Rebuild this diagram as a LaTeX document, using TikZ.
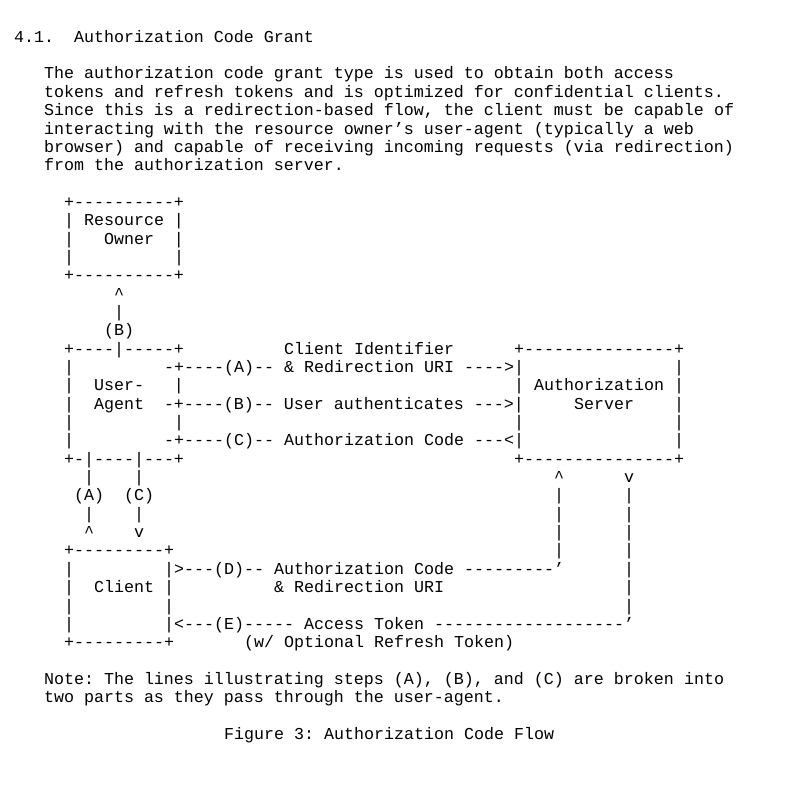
\documentclass[tikz,border=0pt]{standalone}
\usepackage{fontspec}
\setmonofont{Liberation Mono}
\frenchspacing
\tikzset{
  txt/.style={anchor=base west, inner sep=0pt, outer sep=0pt,
    font=\ttfamily\fontsize{12.5pt}{13.7pt}\selectfont}
}
\begin{document}
\begin{tikzpicture}[x=7.5pt, y=-13.76pt]
\useasboundingbox (-1.4,-2.305) rectangle (78.6,40.528);
% heading and text
\node[txt] (sec) at (0,0) {4.1.};
\node[txt] (title) at (6,0) {Authorization Code Grant};
\node[txt] (p1) at (3,2) {The authorization code grant type is used to obtain both access};
\node[txt] (p2) at (3,3) {tokens and refresh tokens and is optimized for confidential clients.};
\node[txt] (p3) at (3,4) {Since this is a redirection-based flow, the client must be capable of};
\node[txt] (p4) at (3,5) {interacting with the resource owner’s user-agent (typically a web};
\node[txt] (p5) at (3,6) {browser) and capable of receiving incoming requests (via redirection)};
\node[txt] (p6) at (3,7) {from the authorization server.};
% resource owner
\node[txt] (r9) at (5,9) {+----------+};
\node[txt] (r10) at (5,10) {|~Resource~|};
\node[txt] (r11) at (5,11) {|~~~Owner~~|};
\node[txt] (r12) at (5,12) {|~~~~~~~~~~|};
\node[txt] (r13) at (5,13) {+----------+};
\node[txt] (r14) at (10,14) {\textasciicircum};
\node[txt] (r15) at (10,15) {|};
\node[txt] (r16) at (9,16) {(B)};
% user-agent and authorization server
\node[txt] (r17) at (5,17) {+----|-----+~~~~~~~~~~Client Identifier~~~~~~+---------------+};
\node[txt] (r18) at (5,18) {|~~~~~~~~~-+----(A)-- \& Redirection URI ---->|~~~~~~~~~~~~~~~|};
\node[txt] (r19) at (5,19) {|~~User-~~~|};
\node[txt] (r19b) at (50,19) {|~Authorization~|};
\node[txt] (r20) at (5,20) {|~~Agent~~-+----(B)-- User authenticates --->|~~~~~Server~~~~|};
\node[txt] (r21) at (5,21) {|~~~~~~~~~~|};
\node[txt] (r21b) at (50,21) {|~~~~~~~~~~~~~~~|};
\node[txt] (r22) at (5,22) {|~~~~~~~~~-+----(C)-- Authorization Code ---<|~~~~~~~~~~~~~~~|};
\node[txt] (r23) at (5,23) {+-|----|---+};
\node[txt] (r23b) at (50,23) {+---------------+};
% lines between
\node[txt] (r24) at (7,24) {|~~~~|};
\node[txt] (r24b) at (54,24) {\textasciicircum~~~~~~v};
\node[txt] (r25) at (6,25) {(A)~~(C)};
\node[txt] (r25b) at (54,25) {|~~~~~~|};
\node[txt] (r26) at (7,26) {|~~~~|};
\node[txt] (r26b) at (54,26) {|~~~~~~|};
\node[txt] (r27) at (7,27) {\textasciicircum~~~~v};
\node[txt] (r27b) at (54,27) {|~~~~~~|};
% client
\node[txt] (r28) at (5,28) {+---------+};
\node[txt] (r28b) at (54,28) {|~~~~~~|};
\node[txt] (r29) at (5,29) {|~~~~~~~~~|>---(D)-- Authorization Code ---------’~~~~~~|};
\node[txt] (r30) at (5,30) {|~~Client~|~~~~~~~~~~\& Redirection URI};
\node[txt] (r30b) at (61,30) {|};
\node[txt] (r31) at (5,31) {|~~~~~~~~~|};
\node[txt] (r31b) at (61,31) {|};
\node[txt] (r32) at (5,32) {|~~~~~~~~~|<---(E)----- Access Token -------------------’};
\node[txt] (r33) at (5,33) {+---------+~~~~~~~(w/ Optional Refresh Token)};
% note and caption
\node[txt] (note1) at (3,35) {Note: The lines illustrating steps (A), (B), and (C) are broken into};
\node[txt] (note2) at (3,36) {two parts as they pass through the user-agent.};
\node[txt] (cap) at (21,38) {Figure 3: Authorization Code Flow};
\end{tikzpicture}
\end{document}
